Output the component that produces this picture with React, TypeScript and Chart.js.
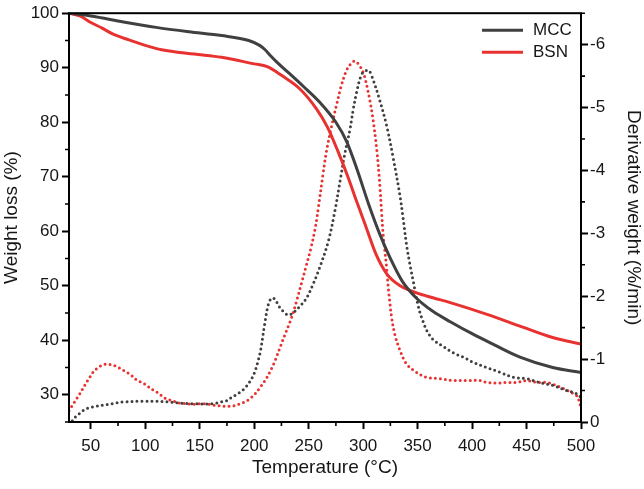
import React, { useEffect, useRef } from 'react';
import { Chart, registerables } from 'chart.js';

Chart.register(...registerables);

// ---- data ----
const seriesNames = ['MCC', 'BSN'];

const mccTgTemp = [30, 50, 80, 110, 140, 170, 195, 205, 210, 215, 222, 232, 245, 260, 275, 285, 295, 305, 315, 325, 336, 349, 364, 380, 400, 420, 444, 474, 500];
const mccTgWeight = [100, 99.5, 98.4, 97.4, 96.6, 95.9, 95.0, 94.1, 93.3, 92.2, 90.8, 89.0, 86.6, 83.7, 80.0, 76.4, 71.0, 65.0, 59.6, 55.0, 50.8, 47.7, 45.3, 43.4, 41.2, 39.2, 36.9, 35.0, 34.1];

const bsnTgTemp = [30, 40, 50, 60, 70, 85, 100, 115, 145, 170, 200, 212, 225, 242, 257, 267, 277, 286, 294, 303, 312, 322, 334, 349, 364, 380, 413, 444, 474, 500];
const bsnTgWeight = [100, 99.5, 98.3, 97.3, 96.2, 95.1, 94.1, 93.3, 92.5, 91.9, 90.7, 90.2, 88.6, 86.1, 82.5, 79.2, 74.6, 70.0, 65.5, 60.6, 55.7, 52.1, 50.0, 48.7, 47.8, 46.9, 44.8, 42.6, 40.5, 39.3];

const mccDtgTemp = [33, 34, 38.5, 44.7, 49.3, 55, 61.5, 66, 72, 80, 98, 110, 121, 132, 144, 162, 170, 175, 179, 184, 189, 193, 198, 201, 204, 206, 210, 213, 216, 219, 223.6, 231, 236, 242, 248, 254, 260, 268, 274, 279, 283, 288, 291, 294, 297, 300, 305, 309, 315, 321.6, 327.7, 333.8, 337, 340, 343, 346, 349, 352, 355, 358, 361, 365, 373.5, 382.7, 392, 401, 413, 425.6, 438, 450, 462, 474.5, 487, 496, 500];
const mccDtgRate = [-0.02, -0.05, -0.12, -0.2, -0.23, -0.25, -0.27, -0.28, -0.3, -0.32, -0.33, -0.33, -0.32, -0.3, -0.29, -0.29, -0.32, -0.34, -0.39, -0.44, -0.5, -0.57, -0.7, -0.82, -1.0, -1.15, -1.6, -1.87, -1.97, -1.95, -1.82, -1.7, -1.74, -1.84, -1.97, -2.19, -2.45, -2.87, -3.35, -3.85, -4.25, -4.66, -4.98, -5.24, -5.45, -5.56, -5.59, -5.45, -5.13, -4.71, -4.19, -3.6, -3.2, -2.8, -2.5, -2.24, -1.97, -1.75, -1.6, -1.47, -1.38, -1.3, -1.2, -1.1, -1.03, -0.95, -0.87, -0.79, -0.71, -0.69, -0.63, -0.58, -0.5, -0.45, -0.39];

const bsnDtgTemp = [30, 31, 34, 37, 40, 43, 46, 49, 52, 57, 61.5, 64.6, 69, 74, 78, 83, 87.5, 92, 98, 103, 107, 112, 117, 121, 126, 132, 138, 144, 150, 156, 162.5, 167, 172, 178, 182, 187, 191.5, 196, 201, 205, 210, 214.5, 219, 223.6, 228, 233, 236, 239, 243.6, 248, 252, 256, 259, 263, 266.5, 271, 275.7, 280, 285, 289.5, 292.5, 297, 300, 302, 306, 309, 312.4, 315.4, 317, 318.4, 320, 321.6, 323, 324.6, 326, 329, 334, 340, 349, 358, 370, 383, 395, 407, 413, 423, 432, 441, 450, 459, 468, 474.5, 484, 493, 497.4, 498.3, 500];
const bsnDtgRate = [-0.18, -0.21, -0.29, -0.37, -0.45, -0.54, -0.63, -0.71, -0.79, -0.87, -0.91, -0.92, -0.91, -0.88, -0.84, -0.79, -0.74, -0.67, -0.62, -0.56, -0.51, -0.46, -0.39, -0.36, -0.33, -0.3, -0.29, -0.28, -0.29, -0.29, -0.27, -0.26, -0.25, -0.25, -0.26, -0.29, -0.32, -0.37, -0.45, -0.54, -0.66, -0.8, -0.97, -1.18, -1.38, -1.6, -1.75, -1.93, -2.22, -2.5, -2.76, -3.08, -3.42, -3.92, -4.32, -4.7, -5.05, -5.35, -5.6, -5.71, -5.74, -5.66, -5.56, -5.45, -5.13, -4.82, -4.35, -3.75, -3.32, -2.98, -2.71, -2.45, -2.15, -1.89, -1.68, -1.4, -1.13, -0.92, -0.79, -0.71, -0.69, -0.66, -0.66, -0.66, -0.63, -0.62, -0.63, -0.63, -0.66, -0.63, -0.63, -0.6, -0.53, -0.45, -0.39, -0.3, -0.26];

const xTicks = [50, 100, 150, 200, 250, 300, 350, 400, 450, 500];
const xMinorTicks = [75, 125, 175, 225, 275, 325, 375, 425, 475];
const leftTicks = [30, 40, 50, 60, 70, 80, 90, 100];
const leftMinorTicks = [25, 35, 45, 55, 65, 75, 85, 95];
const rightTicks = [0, -1, -2, -3, -4, -5, -6];
const rightMinorTicks = [-0.5, -1.5, -2.5, -3.5, -4.5, -5.5, -6.5];

const DARK = '#404040';
const RED = '#e8322f';
const TEXT = '#161616';
const FONT = "'Liberation Sans', Arial, sans-serif";

const toPoints = (xs: number[], ys: number[]) => xs.map((x, i) => ({ x, y: ys[i] }));

const framePlugin = {
  id: 'frameAndLegend',
  afterDraw(chart: any) {
    const { ctx, chartArea: a, scales } = chart;
    ctx.save();
    ctx.strokeStyle = '#000';
    ctx.lineWidth = 2;
    ctx.strokeRect(a.left, a.top, a.right - a.left, a.bottom - a.top);
    ctx.lineWidth = 1.6;
    ctx.beginPath();
    xMinorTicks.forEach((v) => {
      const p = scales.x.getPixelForValue(v);
      ctx.moveTo(p, a.bottom);
      ctx.lineTo(p, a.bottom + 4);
    });
    leftMinorTicks.forEach((v) => {
      const p = scales.y.getPixelForValue(v);
      ctx.moveTo(a.left, p);
      ctx.lineTo(a.left - 4, p);
    });
    rightMinorTicks.forEach((v) => {
      const p = scales.y1.getPixelForValue(v);
      ctx.moveTo(a.right, p);
      ctx.lineTo(a.right + 4, p);
    });
    ctx.stroke();

    // legend
    const colors = [DARK, RED];
    const lx1 = a.right - 99;
    const lx2 = a.right - 58;
    ctx.font = `17px ${FONT}`;
    ctx.textBaseline = 'middle';
    ctx.textAlign = 'left';
    seriesNames.forEach((name, i) => {
      const y = a.top + 17 + i * 22;
      ctx.strokeStyle = colors[i];
      ctx.lineWidth = 3;
      ctx.beginPath();
      ctx.moveTo(lx1, y);
      ctx.lineTo(lx2, y);
      ctx.stroke();
      ctx.fillStyle = TEXT;
      ctx.fillText(name, lx2 + 10, y);
    });
    ctx.restore();
  },
};

export default function App() {
  const ref = useRef<HTMLCanvasElement | null>(null);

  useEffect(() => {
    if (!ref.current) return;
    const tickFont = { family: FONT, size: 17 };
    const titleFont = { family: FONT, size: 19, lineHeight: 1 };
    const grid = {
      drawOnChartArea: false,
      drawTicks: true,
      tickLength: 7,
      tickWidth: 2,
      tickColor: '#000',
    };
    const dotted = {
      borderWidth: 3,
      borderDash: [0, 5],
      borderCapStyle: 'round',
      pointRadius: 0,
      tension: 0.35,
    };
    const chart = new Chart(ref.current, {
      type: 'line',
      data: {
        datasets: [
          {
            label: seriesNames[0],
            data: toPoints(mccTgTemp, mccTgWeight),
            yAxisID: 'y',
            borderColor: DARK,
            borderWidth: 3,
            pointRadius: 0,
            cubicInterpolationMode: 'monotone',
          },
          {
            label: seriesNames[1],
            data: toPoints(bsnTgTemp, bsnTgWeight),
            yAxisID: 'y',
            borderColor: RED,
            borderWidth: 3,
            pointRadius: 0,
            cubicInterpolationMode: 'monotone',
          },
          {
            label: seriesNames[0] + ' DTG',
            data: toPoints(mccDtgTemp, mccDtgRate),
            yAxisID: 'y1',
            borderColor: DARK,
            ...dotted,
          },
          {
            label: seriesNames[1] + ' DTG',
            data: toPoints(bsnDtgTemp, bsnDtgRate),
            yAxisID: 'y1',
            borderColor: RED,
            ...dotted,
          },
        ],
      },
      options: {
        animation: false,
        responsive: false,
        layout: { padding: { top: 11, left: 0, right: 0, bottom: 0 } },
        plugins: { legend: { display: false }, tooltip: { enabled: false } },
        scales: {
          x: {
            type: 'linear',
            min: 30,
            max: 500,
            afterBuildTicks: (s: any) => {
              s.ticks = xTicks.map((v) => ({ value: v }));
            },
            afterFit: (s: any) => {
              s.height = 67;
            },
            ticks: { font: tickFont, color: TEXT, padding: 7, maxRotation: 0, callback: (v: any) => String(v) },
            grid,
            border: { display: false },
            title: { display: true, text: 'Temperature (°C)', font: titleFont, color: TEXT, padding: { top: 0, bottom: 12 } },
          },
          y: {
            type: 'linear',
            position: 'left',
            min: 25,
            max: 100,
            afterBuildTicks: (s: any) => {
              s.ticks = leftTicks.map((v) => ({ value: v }));
            },
            afterFit: (s: any) => {
              s.width = 69;
            },
            ticks: { font: tickFont, color: TEXT, padding: 3, callback: (v: any) => String(v) },
            grid,
            border: { display: false },
            title: { display: true, text: 'Weight loss (%)', font: titleFont, color: TEXT, padding: { top: 2.5, bottom: 0 } },
          },
          y1: {
            type: 'linear',
            position: 'right',
            min: -6.5,
            max: 0,
            reverse: true,
            afterBuildTicks: (s: any) => {
              s.ticks = rightTicks.map((v) => ({ value: v }));
            },
            afterFit: (s: any) => {
              s.width = 63;
            },
            ticks: { font: tickFont, color: TEXT, padding: 2, callback: (v: any) => String(v) },
            grid,
            border: { display: false },
            title: { display: true, text: 'Derivative weight (%/min)', font: titleFont, color: TEXT, padding: { top: 1.5, bottom: 0 } },
          },
        },
      },
      plugins: [framePlugin],
    } as any);
    return () => chart.destroy();
  }, []);

  return (
    <div style={{ position: 'absolute', left: 0, top: 0, width: 644, height: 489, background: '#fff' }}>
      <canvas ref={ref} width={644} height={489} style={{ display: 'block', width: 644, height: 489 }} />
    </div>
  );
}
